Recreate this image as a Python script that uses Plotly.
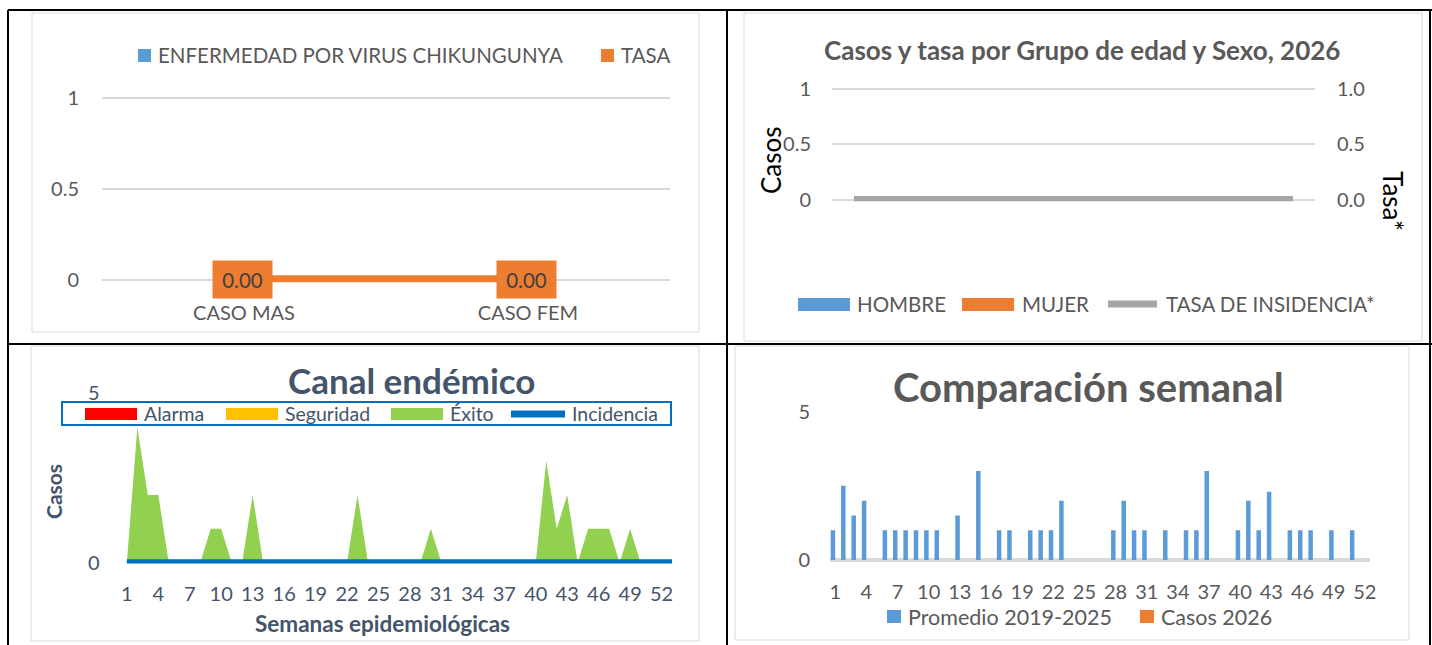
import plotly.graph_objects as go

W, H = 1432, 645


def X(px):
    return px / W


def Y(py):
    return 1 - py / H


FONT = "Lato"
TXT = "#595959"
SLATE = "#44546A"
GRID = "#D9D9D9"
BLUE = "#5B9BD5"
ORANGE = "#ED7D31"

# ---------------- Panel A: casos y tasa por sexo ----------------
sex_cats = ["CASO MAS", "CASO FEM"]
chik_cases = [0, 0]
chik_rate = [0.00, 0.00]

# ---------------- Panel B: casos y tasa por grupo de edad ----------------
age_groups = ["<1", "1-4", "5-9", "10-14", "15-19", "20-29", "30-39",
              "40-49", "50-59", "60-69", "70+"]
hombre = [0, 0, 0, 0, 0, 0, 0, 0, 0, 0, 0]
mujer = [0, 0, 0, 0, 0, 0, 0, 0, 0, 0, 0]
tasa_incidencia = [0, 0, 0, 0, 0, 0, 0, 0, 0, 0, 0]

# ---------------- Panel C: canal endémico ----------------
weeks53 = list(range(1, 54))
alarma = [0, 0, 0, 0, 0, 0, 0, 0, 0, 0, 0, 0, 0, 0, 0, 0, 0, 0, 0, 0, 0, 0, 0, 0, 0, 0, 0,
          0, 0, 0, 0, 0, 0, 0, 0, 0, 0, 0, 0, 0, 0, 0, 0, 0, 0, 0, 0, 0, 0, 0, 0, 0, 0]
seguridad = [0, 0, 0, 0, 0, 0, 0, 0, 0, 0, 0, 0, 0, 0, 0, 0, 0, 0, 0, 0, 0, 0, 0, 0, 0, 0, 0,
             0, 0, 0, 0, 0, 0, 0, 0, 0, 0, 0, 0, 0, 0, 0, 0, 0, 0, 0, 0, 0, 0, 0, 0, 0, 0]
exito = [0, 4, 2, 2, 0, 0, 0, 0, 1, 1, 0, 0, 2, 0, 0, 0, 0, 0, 0, 0, 0, 0, 2, 0, 0, 0, 0,
         0, 0, 1, 0, 0, 0, 0, 0, 0, 0, 0, 0, 0, 3, 1, 2, 0, 1, 1, 1, 0, 1, 0, 0, 0, 0]
incidencia = [0, 0, 0, 0, 0, 0, 0, 0, 0, 0, 0, 0, 0, 0, 0, 0, 0, 0, 0, 0, 0, 0, 0, 0, 0, 0, 0,
              0, 0, 0, 0, 0, 0, 0, 0, 0, 0, 0, 0, 0, 0, 0, 0, 0, 0, 0, 0, 0, 0, 0, 0, 0, 0]
canal_ticks = [1, 4, 7, 10, 13, 16, 19, 22, 25, 28, 31, 34, 37, 40, 43, 46, 49, 52]

# ---------------- Panel D: comparación semanal ----------------
weeks52 = list(range(1, 53))
promedio = [1, 2.5, 1.5, 2, 0, 1, 1, 1, 1, 1, 1, 0, 1.5, 0, 3, 0, 1, 1, 0, 1, 1, 1, 2, 0, 0, 0,
            0, 1, 2, 1, 1, 0, 1, 0, 1, 1, 3, 0, 0, 1, 2, 1, 2.3, 0, 1, 1, 1, 0, 1, 0, 1, 0]
casos_2026 = [0, 0, 0, 0, 0, 0, 0, 0, 0, 0, 0, 0, 0, 0, 0, 0, 0, 0, 0, 0, 0, 0, 0, 0, 0, 0,
              0, 0, 0, 0, 0, 0, 0, 0, 0, 0, 0, 0, 0, 0, 0, 0, 0, 0, 0, 0, 0, 0, 0, 0, 0, 0]


def ydom(p_lo, p_hi, lo, hi, pad):
    """domain (paper) and padded range so that value lo sits at pixel p_lo, hi at p_hi"""
    ppu = (p_lo - p_hi) / (hi - lo)
    d = pad * (hi - lo)
    return [Y(p_lo + d * ppu), Y(p_hi - d * ppu)], [lo - d, hi + d]


fig = go.Figure()

# Panel A traces
fig.add_bar(x=sex_cats, y=chik_cases, name="ENFERMEDAD POR VIRUS CHIKUNGUNYA",
            marker=dict(color=BLUE, line=dict(width=0)), xaxis="x", yaxis="y")
fig.add_scatter(x=sex_cats, y=chik_rate, name="TASA", mode="lines",
                line=dict(color=ORANGE, width=9.5), xaxis="x", yaxis="y")

# Panel B traces
fig.add_bar(x=age_groups, y=hombre, name="HOMBRE",
            marker=dict(color=BLUE, line=dict(width=0)), xaxis="x2", yaxis="y2")
fig.add_bar(x=age_groups, y=mujer, name="MUJER",
            marker=dict(color=ORANGE, line=dict(width=0)), xaxis="x2", yaxis="y2")
fig.add_scatter(x=age_groups, y=tasa_incidencia, name="TASA DE INSIDENCIA*", mode="lines",
                line=dict(color="#A5A5A5", width=8), xaxis="x2", yaxis="y3")

# Panel C traces
for nm, vals, col in [("Alarma", alarma, "#FF0000"), ("Seguridad", seguridad, "#FFC000"),
                      ("Éxito", exito, "#92D050")]:
    fig.add_scatter(x=weeks53, y=vals, name=nm, mode="none", fill="tozeroy",
                    fillcolor=col, xaxis="x3", yaxis="y4")
fig.add_scatter(x=weeks53, y=incidencia, name="Incidencia", mode="lines",
                line=dict(color="#0070C0", width=7), xaxis="x3", yaxis="y4")

# Panel D traces
fig.add_bar(x=weeks52, y=promedio, name="Promedio 2019-2025",
            marker=dict(color="#5A9BD8", line=dict(width=0)), xaxis="x4", yaxis="y5")
fig.add_bar(x=weeks52, y=casos_2026, name="Casos 2026",
            marker=dict(color=ORANGE, line=dict(width=0)), xaxis="x4", yaxis="y5")

tf = dict(family=FONT, size=20, color=TXT)
tfs = dict(family=FONT, size=20, color=SLATE)

domA, rngA = ydom(280, 98, 0, 1, 0.012)
domB, rngB = ydom(200, 89, 0, 1, 0.012)
domC, rngC = ydom(562.7, 393.3, 0, 5, 0.004)
domD, rngD = ydom(560, 411.7, 0, 5, 0.004)

ax_common = dict(automargin=False, showline=False, zeroline=False, ticks="")

layout = dict(
    template="none",
    width=W, height=H, margin=dict(l=0, r=0, t=0, b=0, pad=0, autoexpand=False),
    autosize=False,
    paper_bgcolor="white", plot_bgcolor="rgba(0,0,0,0)", showlegend=False,
    barmode="group", bargap=0.13, bargroupgap=0,
    font=dict(family=FONT, color=TXT),
    # A
    xaxis=dict(ax_common, domain=[X(102), X(670)], anchor="y", type="category",
               range=[-0.5, 1.5], showgrid=False, tickfont=tf, ticklabelstandoff=17),
    yaxis=dict(ax_common, domain=domA, anchor="x", range=rngA, tickvals=[0, 0.5, 1],
               ticktext=["0", "0.5", "1"], showgrid=True, gridcolor=GRID, gridwidth=2,
               tickfont=tf, ticklabelstandoff=22),
    # B
    xaxis2=dict(ax_common, domain=[X(832), X(1315)], anchor="y2", type="category",
                range=[-0.5, 10.5], showgrid=False, showticklabels=False),
    yaxis2=dict(ax_common, domain=domB, anchor="x2", range=rngB, tickvals=[0, 0.5, 1],
                ticktext=["0", "0.5", "1"], showgrid=True, gridcolor=GRID, gridwidth=2,
                tickfont=tf, ticklabelstandoff=20),
    yaxis3=dict(ax_common, domain=domB, anchor="x2", overlaying="y2", side="right",
                range=rngB, tickvals=[0, 0.5, 1], ticktext=["0.0", "0.5", "1.0"],
                showgrid=False, tickfont=tf, ticklabelstandoff=21),
    # C
    xaxis3=dict(ax_common, domain=[X(121.6), X(677.3)], anchor="y4", range=[0.5, 53.5],
                tickvals=canal_ticks, showgrid=False, tickfont=tfs, ticklabelstandoff=17),
    yaxis4=dict(ax_common, domain=domC, anchor="x3", range=rngC, tickvals=[0, 5],
                showgrid=True, gridcolor=GRID, gridwidth=2, tickfont=tfs,
                ticklabelstandoff=21),
    # D
    xaxis4=dict(ax_common, domain=[X(830), X(1370)], anchor="y5", range=[0.5, 52.5],
                tickvals=canal_ticks, showgrid=False, tickfont=tf, ticklabelstandoff=17),
    yaxis5=dict(ax_common, domain=domD, anchor="x4", range=rngD, tickvals=[0, 5],
                showgrid=True, gridcolor=GRID, gridwidth=2,
                tickfont=tf, ticklabelstandoff=19),
)
layout["yaxis5"]["zeroline"] = True
layout["yaxis5"]["zerolinecolor"] = GRID
layout["yaxis5"]["zerolinewidth"] = 4
fig.update_layout(**layout)

ann = []


def text(t, px, py, size, color=TXT, bold=False, xanchor="left", angle=0):
    ann.append(dict(text=t, x=X(px), y=Y(py), xref="paper", yref="paper", showarrow=False,
                    xanchor=xanchor, yanchor="middle", textangle=angle,
                    font=dict(family=FONT, size=size, color=color,
                              weight="bold" if bold else "normal")))


shapes = []


def rect(x0, y0, x1, y1, fill=None, line=None, lw=0, layer="below"):
    shapes.append(dict(type="rect", xref="paper", yref="paper", x0=X(x0), x1=X(x1),
                       y0=Y(y1), y1=Y(y0), fillcolor=fill or "rgba(0,0,0,0)",
                       line=dict(color=line or "rgba(0,0,0,0)", width=lw), layer=layer))


def hline(x0, x1, y, color, width):
    shapes.append(dict(type="line", xref="paper", yref="paper", x0=X(x0), x1=X(x1),
                       y0=Y(y), y1=Y(y), line=dict(color=color, width=width), layer="above"))


def vline(x, y0, y1, color, width):
    shapes.append(dict(type="line", xref="paper", yref="paper", x0=X(x), x1=X(x),
                       y0=Y(y0), y1=Y(y1), line=dict(color=color, width=width), layer="above"))


# chart area borders
rect(32, 13, 699, 332, line=GRID, lw=1)
rect(744, 13, 1422, 341, line=GRID, lw=1)
rect(31, 346, 699, 641, line=GRID, lw=1)
rect(735, 346, 1409, 640, line=GRID, lw=1)

# table lines
hline(8, 1432, 10, "black", 2)
hline(8, 1432, 344, "black", 2)
vline(8, 10, 645, "black", 2)
vline(727, 10, 645, "black", 2)
vline(1430, 10, 645, "black", 2)

# ---- Panel A legend + data labels
rect(138, 49, 151, 62, fill=BLUE)
text("ENFERMEDAD POR VIRUS CHIKUNGUNYA", 156, 55, 20.5)
rect(601, 49, 614, 62, fill=ORANGE)
text("TASA", 619, 55, 20.5)
for c, v in zip(sex_cats, chik_rate):
    ann.append(dict(text=f"{v:.2f}", x=c, y=v, xref="x", yref="y", showarrow=False,
                    xanchor="center", yanchor="middle", xshift=-2, width=57, height=35,
                    borderpad=1, bgcolor=ORANGE, font=dict(family=FONT, size=20.5, color="#404040")))

# ---- Panel B title, axis titles, legend
text("Casos y tasa por Grupo de edad y Sexo, 2026", 1082, 50, 26, bold=True, xanchor="center")
text("Casos", 771, 160, 26, color="black", xanchor="center", angle=-90)
text("Tasa*", 1393, 201, 26, color="black", xanchor="center", angle=90)
rect(798, 298, 850, 311, fill=BLUE)
text("HOMBRE", 855, 304, 20.5)
rect(962, 298, 1014, 311, fill=ORANGE)
text("MUJER", 1020, 304, 20.5)
hline(1108, 1157, 304, "#A5A5A5", 7)
text("TASA DE INSIDENCIA*", 1164, 304, 20.5)

# ---- Panel C title, axis titles, legend
text("Canal endémico", 411, 380, 35, color=SLATE, bold=True, xanchor="center")
text("Casos", 53, 492, 21, color=SLATE, bold=True, xanchor="center", angle=-90)
text("Semanas epidemiológicas", 382, 623, 22.5, color=SLATE, bold=True, xanchor="center")
rect(62, 402, 671, 425, fill="white", line="#0070C0", lw=2, layer="above")
for x0, nm, col in [(85, "Alarma", "#FF0000"), (226, "Seguridad", "#FFC000"),
                    (391, "Éxito", "#92D050")]:
    rect(x0, 408, x0 + 52, 420, fill=col, layer="above")
    text(nm, x0 + 57, 413, 19.5, color=SLATE)
hline(511, 565, 414, "#0070C0", 7)
text("Incidencia", 570, 413, 19.5, color=SLATE)

# ---- Panel D title, legend
text("Comparación semanal", 1088, 387, 40, bold=True, xanchor="center")
rect(887, 610, 901, 623, fill=BLUE)
text("Promedio 2019-2025", 906, 617, 21.5)
rect(1140, 610, 1154, 623, fill=ORANGE)
text("Casos 2026", 1159, 617, 21.5)

fig.update_layout(annotations=ann, shapes=shapes)

fig.write_html("out.html", config={"displayModeBar": False},
               post_script="document.body.style.margin='0';document.body.style.overflow='hidden';")
